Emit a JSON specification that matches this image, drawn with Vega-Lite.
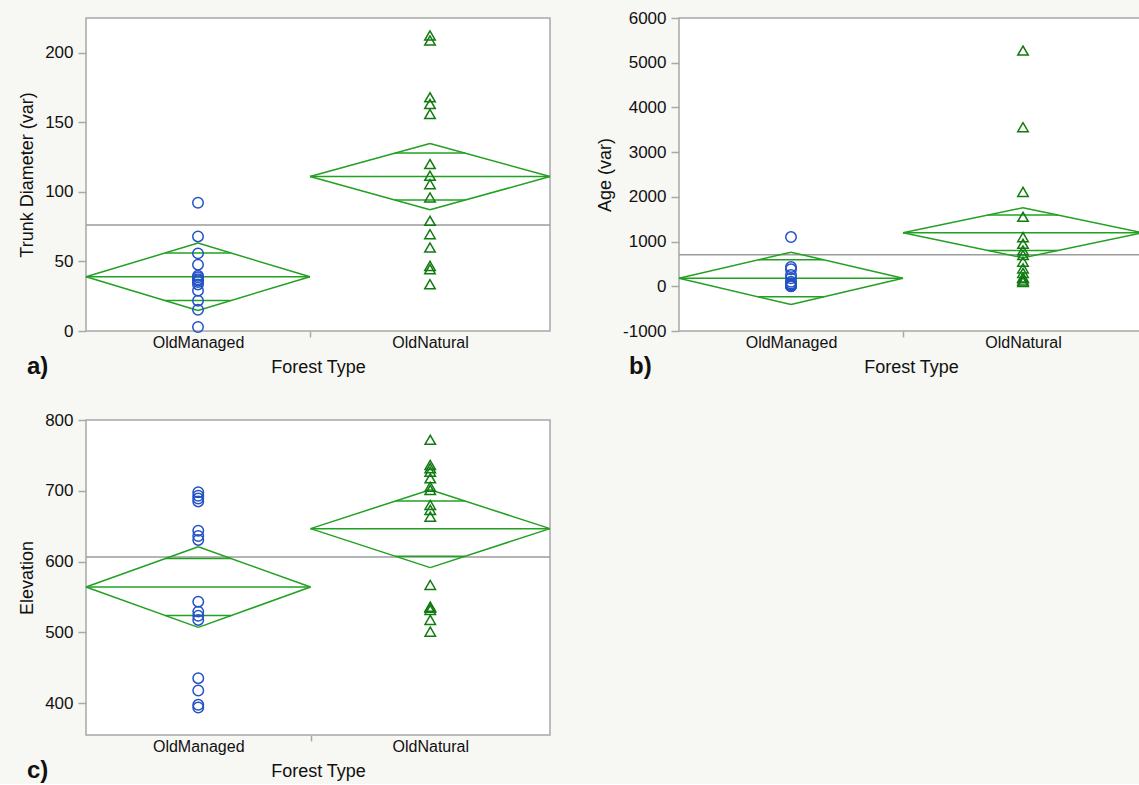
{
  "$schema": "https://vega.github.io/schema/vega-lite/v6.json",
  "padding": {"left": 17, "top": 8, "right": 0, "bottom": 0},
  "background": "#f7f7f3",
  "columns": 2,
  "align": "each",
  "spacing": {"row": 30, "column": 43},
  "datasets": {
    "ptsA": [
      {"forest": "OldManaged", "value": 92.2}, {"forest": "OldManaged", "value": 68.0}, {"forest": "OldManaged", "value": 55.8},
      {"forest": "OldManaged", "value": 47.7}, {"forest": "OldManaged", "value": 39.8}, {"forest": "OldManaged", "value": 38.6},
      {"forest": "OldManaged", "value": 37.2}, {"forest": "OldManaged", "value": 36.5}, {"forest": "OldManaged", "value": 35.2},
      {"forest": "OldManaged", "value": 33.5}, {"forest": "OldManaged", "value": 29.0}, {"forest": "OldManaged", "value": 21.8},
      {"forest": "OldManaged", "value": 15.3}, {"forest": "OldManaged", "value": 2.9},
      {"forest": "OldNatural", "value": 212.4}, {"forest": "OldNatural", "value": 208.8}, {"forest": "OldNatural", "value": 168.0},
      {"forest": "OldNatural", "value": 163.2}, {"forest": "OldNatural", "value": 156.0}, {"forest": "OldNatural", "value": 120.0},
      {"forest": "OldNatural", "value": 111.6}, {"forest": "OldNatural", "value": 105.6}, {"forest": "OldNatural", "value": 96.0},
      {"forest": "OldNatural", "value": 79.2}, {"forest": "OldNatural", "value": 69.6}, {"forest": "OldNatural", "value": 60.0},
      {"forest": "OldNatural", "value": 46.8}, {"forest": "OldNatural", "value": 44.4}, {"forest": "OldNatural", "value": 33.6}
    ],
    "sumA": [
      {"forest": "OldManaged", "x0": 0, "xc": 7, "x1": 14, "mean": 39.0, "lo": 14.8, "hi": 63.2, "olo": 21.9, "ohi": 56.1, "ox0": 4.95, "ox1": 9.05},
      {"forest": "OldNatural", "x0": 14, "xc": 21.5, "x1": 29, "mean": 111.0, "lo": 87.2, "hi": 134.8, "olo": 94.1, "ohi": 127.9, "ox0": 19.3, "ox1": 23.7}
    ],
    "gmA": [{"grand": 76.2}],
    "ptsB": [
      {"forest": "OldManaged", "value": 1100}, {"forest": "OldManaged", "value": 430}, {"forest": "OldManaged", "value": 380},
      {"forest": "OldManaged", "value": 250}, {"forest": "OldManaged", "value": 180}, {"forest": "OldManaged", "value": 100},
      {"forest": "OldManaged", "value": 60}, {"forest": "OldManaged", "value": 40}, {"forest": "OldManaged", "value": 30},
      {"forest": "OldManaged", "value": 20}, {"forest": "OldManaged", "value": 10}, {"forest": "OldManaged", "value": 10},
      {"forest": "OldManaged", "value": 5}, {"forest": "OldManaged", "value": 0},
      {"forest": "OldNatural", "value": 5272}, {"forest": "OldNatural", "value": 3558}, {"forest": "OldNatural", "value": 2112},
      {"forest": "OldNatural", "value": 1554}, {"forest": "OldNatural", "value": 1100}, {"forest": "OldNatural", "value": 950},
      {"forest": "OldNatural", "value": 800}, {"forest": "OldNatural", "value": 700}, {"forest": "OldNatural", "value": 550},
      {"forest": "OldNatural", "value": 400}, {"forest": "OldNatural", "value": 300}, {"forest": "OldNatural", "value": 200},
      {"forest": "OldNatural", "value": 180}, {"forest": "OldNatural", "value": 130}, {"forest": "OldNatural", "value": 95}
    ],
    "sumB": [
      {"forest": "OldManaged", "x0": 0, "xc": 7, "x1": 14, "mean": 178, "lo": -407, "hi": 763, "olo": -236, "ohi": 592, "ox0": 4.95, "ox1": 9.05},
      {"forest": "OldNatural", "x0": 14, "xc": 21.5, "x1": 29, "mean": 1197, "lo": 637, "hi": 1757, "olo": 801, "ohi": 1593, "ox0": 19.3, "ox1": 23.7}
    ],
    "gmB": [{"grand": 705}],
    "ptsC": [
      {"forest": "OldManaged", "value": 698}, {"forest": "OldManaged", "value": 693}, {"forest": "OldManaged", "value": 689},
      {"forest": "OldManaged", "value": 685}, {"forest": "OldManaged", "value": 643.7}, {"forest": "OldManaged", "value": 636.2},
      {"forest": "OldManaged", "value": 630.6}, {"forest": "OldManaged", "value": 543.4}, {"forest": "OldManaged", "value": 529.3},
      {"forest": "OldManaged", "value": 523.3}, {"forest": "OldManaged", "value": 517.6}, {"forest": "OldManaged", "value": 435.3},
      {"forest": "OldManaged", "value": 417.8}, {"forest": "OldManaged", "value": 397.6}, {"forest": "OldManaged", "value": 393.8},
      {"forest": "OldNatural", "value": 772}, {"forest": "OldNatural", "value": 736.4}, {"forest": "OldNatural", "value": 731.8},
      {"forest": "OldNatural", "value": 727}, {"forest": "OldNatural", "value": 717.6}, {"forest": "OldNatural", "value": 705.8},
      {"forest": "OldNatural", "value": 701.1}, {"forest": "OldNatural", "value": 680}, {"forest": "OldNatural", "value": 673},
      {"forest": "OldNatural", "value": 663.5}, {"forest": "OldNatural", "value": 567}, {"forest": "OldNatural", "value": 536.4},
      {"forest": "OldNatural", "value": 535}, {"forest": "OldNatural", "value": 531.7}, {"forest": "OldNatural", "value": 517.6},
      {"forest": "OldNatural", "value": 501}
    ],
    "sumC": [
      {"forest": "OldManaged", "x0": 0, "xc": 7.5, "x1": 15, "mean": 564, "lo": 507, "hi": 621, "olo": 523.7, "ohi": 604.3, "ox0": 5.3, "ox1": 9.7},
      {"forest": "OldNatural", "x0": 15, "xc": 23, "x1": 31, "mean": 646.5, "lo": 591.5, "hi": 701.5, "olo": 607.6, "ohi": 685.4, "ox0": 20.66, "ox1": 25.34}
    ],
    "gmC": [{"grand": 606.3}]
  },
  "concat": [
    {
      "width": 464, "height": 313,
      "title": {"text": "a)", "dx": -59},
      "layer": [
        {"data": {"name": "gmA"}, "mark": {"type": "rule", "color": "#9b9b9b", "strokeWidth": 1.5},
         "encoding": {"y": {"field": "grand", "type": "quantitative", "title": "Trunk Diameter (var)"}}},
        {"data": {"name": "sumA"}, "mark": {"type": "rule", "color": "#22a022", "strokeWidth": 1.5},
         "encoding": {"x": {"field": "x0", "type": "quantitative", "title": "Forest Type"}, "x2": {"field": "xc"}, "y": {"field": "mean", "type": "quantitative", "title": "Trunk Diameter (var)"}, "y2": {"field": "hi"}}},
        {"data": {"name": "sumA"}, "mark": {"type": "rule", "color": "#22a022", "strokeWidth": 1.5},
         "encoding": {"x": {"field": "xc", "type": "quantitative", "title": "Forest Type"}, "x2": {"field": "x1"}, "y": {"field": "hi", "type": "quantitative", "title": "Trunk Diameter (var)"}, "y2": {"field": "mean"}}},
        {"data": {"name": "sumA"}, "mark": {"type": "rule", "color": "#22a022", "strokeWidth": 1.5},
         "encoding": {"x": {"field": "x1", "type": "quantitative", "title": "Forest Type"}, "x2": {"field": "xc"}, "y": {"field": "mean", "type": "quantitative", "title": "Trunk Diameter (var)"}, "y2": {"field": "lo"}}},
        {"data": {"name": "sumA"}, "mark": {"type": "rule", "color": "#22a022", "strokeWidth": 1.5},
         "encoding": {"x": {"field": "xc", "type": "quantitative", "title": "Forest Type"}, "x2": {"field": "x0"}, "y": {"field": "lo", "type": "quantitative", "title": "Trunk Diameter (var)"}, "y2": {"field": "mean"}}},
        {"data": {"name": "sumA"}, "mark": {"type": "rule", "color": "#22a022", "strokeWidth": 1.5},
         "encoding": {"x": {"field": "x0", "type": "quantitative", "title": "Forest Type"}, "x2": {"field": "x1"}, "y": {"field": "mean", "type": "quantitative", "title": "Trunk Diameter (var)"}}},
        {"data": {"name": "sumA"}, "mark": {"type": "rule", "color": "#22a022", "strokeWidth": 1.5},
         "encoding": {"x": {"field": "ox0", "type": "quantitative", "title": "Forest Type"}, "x2": {"field": "ox1"}, "y": {"field": "ohi", "type": "quantitative", "title": "Trunk Diameter (var)"}}},
        {"data": {"name": "sumA"}, "mark": {"type": "rule", "color": "#22a022", "strokeWidth": 1.5},
         "encoding": {"x": {"field": "ox0", "type": "quantitative", "title": "Forest Type"}, "x2": {"field": "ox1"}, "y": {"field": "olo", "type": "quantitative", "title": "Trunk Diameter (var)"}}},
        {"data": {"name": "ptsA"},
         "transform": [{"lookup": "forest", "from": {"data": {"name": "sumA"}, "key": "forest", "fields": ["xc"]}}],
         "mark": {"type": "point", "filled": false, "size": 110, "strokeWidth": 1.5, "opacity": 1},
         "encoding": {
           "x": {"field": "xc", "type": "quantitative", "title": "Forest Type",
                 "scale": {"domain": [0, 29], "nice": false, "zero": false},
                 "axis": {"values": [7, 14, 21.5], "labelExpr": "datum.value == 14 ? '' : (datum.value < 14 ? 'OldManaged' : 'OldNatural')",
                          "tickOpacity": {"condition": {"test": "datum.value == 14", "value": 1}, "value": 0},
                          "tickSize": 6, "labelPadding": -3, "labelFlush": false}},
           "y": {"field": "value", "type": "quantitative", "title": "Trunk Diameter (var)",
                 "scale": {"domain": [0, 225], "nice": false, "zero": false},
                 "axis": {"values": [0, 25, 50, 75, 100, 125, 150, 175, 200], "labelExpr": "datum.value % 50 == 0 ? datum.label : ''",
                          "tickSize": {"condition": {"test": "datum.value % 50 != 0", "value": 5}, "value": 8}}},
           "shape": {"field": "forest", "scale": {"domain": ["OldManaged", "OldNatural"], "range": ["circle", "triangle-up"]}, "legend": null},
           "color": {"field": "forest", "scale": {"domain": ["OldManaged", "OldNatural"], "range": ["#2352c6", "#117a11"]}, "legend": null}
         }}
      ]
    },
    {
      "width": 464, "height": 313,
      "title": {"text": "b)", "dx": -50},
      "layer": [
        {"data": {"name": "gmB"}, "mark": {"type": "rule", "color": "#9b9b9b", "strokeWidth": 1.5},
         "encoding": {"y": {"field": "grand", "type": "quantitative", "title": "Age (var)"}}},
        {"data": {"name": "sumB"}, "mark": {"type": "rule", "color": "#22a022", "strokeWidth": 1.5},
         "encoding": {"x": {"field": "x0", "type": "quantitative", "title": "Forest Type"}, "x2": {"field": "xc"}, "y": {"field": "mean", "type": "quantitative", "title": "Age (var)"}, "y2": {"field": "hi"}}},
        {"data": {"name": "sumB"}, "mark": {"type": "rule", "color": "#22a022", "strokeWidth": 1.5},
         "encoding": {"x": {"field": "xc", "type": "quantitative", "title": "Forest Type"}, "x2": {"field": "x1"}, "y": {"field": "hi", "type": "quantitative", "title": "Age (var)"}, "y2": {"field": "mean"}}},
        {"data": {"name": "sumB"}, "mark": {"type": "rule", "color": "#22a022", "strokeWidth": 1.5},
         "encoding": {"x": {"field": "x1", "type": "quantitative", "title": "Forest Type"}, "x2": {"field": "xc"}, "y": {"field": "mean", "type": "quantitative", "title": "Age (var)"}, "y2": {"field": "lo"}}},
        {"data": {"name": "sumB"}, "mark": {"type": "rule", "color": "#22a022", "strokeWidth": 1.5},
         "encoding": {"x": {"field": "xc", "type": "quantitative", "title": "Forest Type"}, "x2": {"field": "x0"}, "y": {"field": "lo", "type": "quantitative", "title": "Age (var)"}, "y2": {"field": "mean"}}},
        {"data": {"name": "sumB"}, "mark": {"type": "rule", "color": "#22a022", "strokeWidth": 1.5},
         "encoding": {"x": {"field": "x0", "type": "quantitative", "title": "Forest Type"}, "x2": {"field": "x1"}, "y": {"field": "mean", "type": "quantitative", "title": "Age (var)"}}},
        {"data": {"name": "sumB"}, "mark": {"type": "rule", "color": "#22a022", "strokeWidth": 1.5},
         "encoding": {"x": {"field": "ox0", "type": "quantitative", "title": "Forest Type"}, "x2": {"field": "ox1"}, "y": {"field": "ohi", "type": "quantitative", "title": "Age (var)"}}},
        {"data": {"name": "sumB"}, "mark": {"type": "rule", "color": "#22a022", "strokeWidth": 1.5},
         "encoding": {"x": {"field": "ox0", "type": "quantitative", "title": "Forest Type"}, "x2": {"field": "ox1"}, "y": {"field": "olo", "type": "quantitative", "title": "Age (var)"}}},
        {"data": {"name": "ptsB"},
         "transform": [{"lookup": "forest", "from": {"data": {"name": "sumB"}, "key": "forest", "fields": ["xc"]}}],
         "mark": {"type": "point", "filled": false, "size": 110, "strokeWidth": 1.5, "opacity": 1},
         "encoding": {
           "x": {"field": "xc", "type": "quantitative", "title": "Forest Type",
                 "scale": {"domain": [0, 29], "nice": false, "zero": false},
                 "axis": {"values": [7, 14, 21.5], "labelExpr": "datum.value == 14 ? '' : (datum.value < 14 ? 'OldManaged' : 'OldNatural')",
                          "tickOpacity": {"condition": {"test": "datum.value == 14", "value": 1}, "value": 0},
                          "tickSize": 6, "labelPadding": -3, "labelFlush": false}},
           "y": {"field": "value", "type": "quantitative", "title": "Age (var)",
                 "scale": {"domain": [-1000, 6000], "nice": false, "zero": false},
                 "axis": {"values": [-1000, 0, 1000, 2000, 3000, 4000, 5000, 6000], "labelExpr": "toString(datum.value)"}},
           "shape": {"field": "forest", "scale": {"domain": ["OldManaged", "OldNatural"], "range": ["circle", "triangle-up"]}, "legend": null},
           "color": {"field": "forest", "scale": {"domain": ["OldManaged", "OldNatural"], "range": ["#2352c6", "#117a11"]}, "legend": null}
         }}
      ]
    },
    {
      "width": 464, "height": 315,
      "title": {"text": "c)", "dx": -59},
      "layer": [
        {"data": {"name": "gmC"}, "mark": {"type": "rule", "color": "#9b9b9b", "strokeWidth": 1.5},
         "encoding": {"y": {"field": "grand", "type": "quantitative", "title": "Elevation"}}},
        {"data": {"name": "sumC"}, "mark": {"type": "rule", "color": "#22a022", "strokeWidth": 1.5},
         "encoding": {"x": {"field": "x0", "type": "quantitative", "title": "Forest Type"}, "x2": {"field": "xc"}, "y": {"field": "mean", "type": "quantitative", "title": "Elevation"}, "y2": {"field": "hi"}}},
        {"data": {"name": "sumC"}, "mark": {"type": "rule", "color": "#22a022", "strokeWidth": 1.5},
         "encoding": {"x": {"field": "xc", "type": "quantitative", "title": "Forest Type"}, "x2": {"field": "x1"}, "y": {"field": "hi", "type": "quantitative", "title": "Elevation"}, "y2": {"field": "mean"}}},
        {"data": {"name": "sumC"}, "mark": {"type": "rule", "color": "#22a022", "strokeWidth": 1.5},
         "encoding": {"x": {"field": "x1", "type": "quantitative", "title": "Forest Type"}, "x2": {"field": "xc"}, "y": {"field": "mean", "type": "quantitative", "title": "Elevation"}, "y2": {"field": "lo"}}},
        {"data": {"name": "sumC"}, "mark": {"type": "rule", "color": "#22a022", "strokeWidth": 1.5},
         "encoding": {"x": {"field": "xc", "type": "quantitative", "title": "Forest Type"}, "x2": {"field": "x0"}, "y": {"field": "lo", "type": "quantitative", "title": "Elevation"}, "y2": {"field": "mean"}}},
        {"data": {"name": "sumC"}, "mark": {"type": "rule", "color": "#22a022", "strokeWidth": 1.5},
         "encoding": {"x": {"field": "x0", "type": "quantitative", "title": "Forest Type"}, "x2": {"field": "x1"}, "y": {"field": "mean", "type": "quantitative", "title": "Elevation"}}},
        {"data": {"name": "sumC"}, "mark": {"type": "rule", "color": "#22a022", "strokeWidth": 1.5},
         "encoding": {"x": {"field": "ox0", "type": "quantitative", "title": "Forest Type"}, "x2": {"field": "ox1"}, "y": {"field": "ohi", "type": "quantitative", "title": "Elevation"}}},
        {"data": {"name": "sumC"}, "mark": {"type": "rule", "color": "#22a022", "strokeWidth": 1.5},
         "encoding": {"x": {"field": "ox0", "type": "quantitative", "title": "Forest Type"}, "x2": {"field": "ox1"}, "y": {"field": "olo", "type": "quantitative", "title": "Elevation"}}},
        {"data": {"name": "ptsC"},
         "transform": [{"lookup": "forest", "from": {"data": {"name": "sumC"}, "key": "forest", "fields": ["xc"]}}],
         "mark": {"type": "point", "filled": false, "size": 110, "strokeWidth": 1.5, "opacity": 1},
         "encoding": {
           "x": {"field": "xc", "type": "quantitative", "title": "Forest Type",
                 "scale": {"domain": [0, 31], "nice": false, "zero": false},
                 "axis": {"values": [7.5, 15, 23], "labelExpr": "datum.value == 15 ? '' : (datum.value < 15 ? 'OldManaged' : 'OldNatural')",
                          "tickOpacity": {"condition": {"test": "datum.value == 15", "value": 1}, "value": 0},
                          "tickSize": 6, "labelPadding": -3, "labelFlush": false}},
           "y": {"field": "value", "type": "quantitative", "title": "Elevation",
                 "scale": {"domain": [355, 800], "nice": false, "zero": false},
                 "axis": {"values": [400, 450, 500, 550, 600, 650, 700, 750, 800], "format": "d"}},
           "shape": {"field": "forest", "scale": {"domain": ["OldManaged", "OldNatural"], "range": ["circle", "triangle-up"]}, "legend": null},
           "color": {"field": "forest", "scale": {"domain": ["OldManaged", "OldNatural"], "range": ["#2352c6", "#117a11"]}, "legend": null}
         }}
      ]
    }
  ],
  "config": {
    "font": "Liberation Sans",
    "view": {"stroke": "#a8a8a8", "strokeWidth": 1.5, "fill": "white"},
    "axis": {"labelFontSize": 16, "titleFontSize": 18, "titleFontWeight": "normal", "labelColor": "#111", "titleColor": "#111",
             "tickColor": "#a8a8a8", "tickWidth": 1.5, "domain": false, "grid": false, "tickSize": 8, "labelPadding": 5, "titlePadding": 8},
    "axisY": {"labelFontSize": 17},
    "title": {"orient": "bottom", "anchor": "start", "frame": "group", "fontSize": 24, "fontWeight": "bold", "color": "#111", "offset": -21}
  }
}
